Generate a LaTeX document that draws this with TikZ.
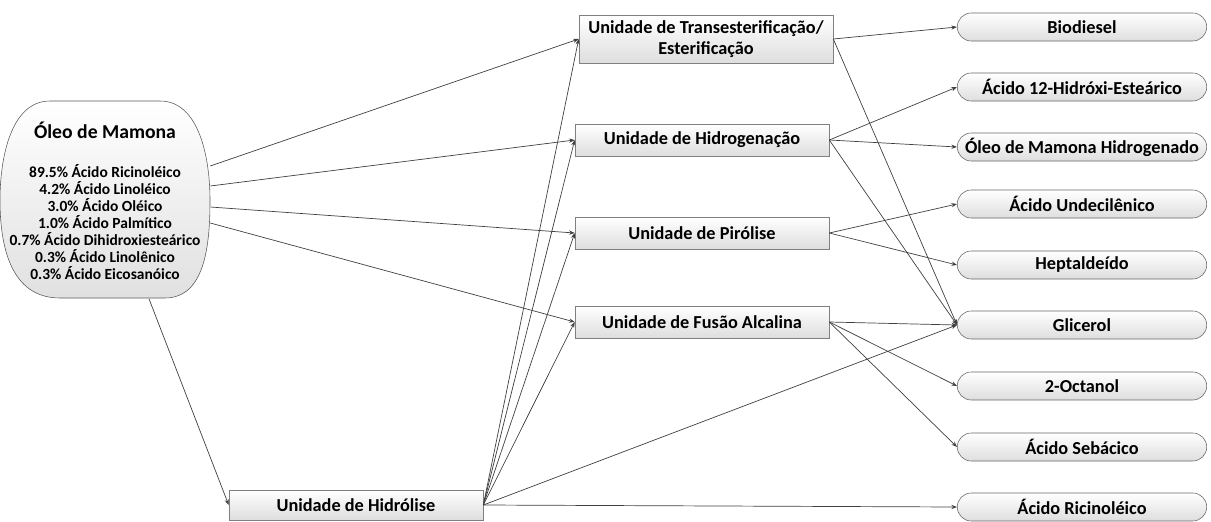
\documentclass[tikz,border=0pt]{standalone}
\usepackage{fontspec}
\setmainfont{Carlito}
\usetikzlibrary{shapes.misc,arrows.meta}

\begin{document}
\begin{tikzpicture}[
    x=0.025cm, y=-0.025cm,
    unit/.style={rectangle,draw=black!50,top color=white,bottom color=black!13,
      minimum width=6.35cm,minimum height=0.8cm,inner sep=2pt,align=center,
      font=\fontsize{13}{14.5}\selectfont\bfseries},
    product/.style={rounded rectangle,draw=black!60,top color=white,bottom color=black!13,
      minimum width=6.375cm,minimum height=0.7cm,inner sep=2pt,
      font=\fontsize{13}{15}\selectfont\bfseries},
    link/.style={-{Stealth[length=4pt,width=3pt]},black!75,line width=0.5pt}
    ]

    \useasboundingbox (0,0) rectangle (1211,521);

    % oleo de mamona
    \shade[top color=white,bottom color=black!12,draw=black!65]
      (50,101) -- (160,101) .. controls (200,101) and (210,160) .. (210,200)
      .. controls (210,245) and (205,298) .. (165,298) -- (60,298)
      .. controls (10,298) and (0,245) .. (0,200)
      .. controls (0,160) and (10,101) .. (50,101) -- cycle;
    \node (oleo) [rectangle,minimum width=5.25cm,minimum height=4.925cm] at (105,200) {};
    \node (oleotit) [font=\fontsize{14}{17}\selectfont\bfseries] at (105,130) {Óleo de Mamona};
    \node (oleolist) [align=center,font=\fontsize{11}{12}\selectfont\bfseries] at (105,222)
      {89.5\% Ácido Ricinoléico\\4.2\% Ácido Linoléico\\3.0\% Ácido Oléico\\
       1.0\% Ácido Palmítico\\0.7\% Ácido Dihidroxiesteárico\\0.3\% Ácido Linolênico\\
       0.3\% Ácido Eicosanóico};

    % unidades
    \node (trans) [unit,minimum height=1.2cm] at (706,39) {Unidade de Transesterificação/\\Esterificação};
    \node (hidrog) [unit] at (702,140) {Unidade de Hidrogenação};
    \node (pirol) [unit] at (702,233) {Unidade de Pirólise};
    \node (fusao) [unit] at (702,322) {Unidade de Fusão Alcalina};
    \node (hidrol) [unit,minimum height=0.75cm] at (356,505) {Unidade de Hidrólise};

    % produtos
    \foreach \name/\y/\txt in {biodiesel/27/Biodiesel, hidroxi/87/Ácido 12-Hidróxi-Esteárico,
        oleoh/147/Óleo de Mamona Hidrogenado, undec/204/Ácido Undecilênico,
        hepta/265/Heptaldeído, glicerol/325/Glicerol, octanol/386/2-Octanol,
        sebacico/447/Ácido Sebácico, ricin/507/Ácido Ricinoléico}
      \node (\name) [product] at (1082,\y) {\txt};

    % ligacoes
    \draw[link] ([yshift=0.85cm]oleo.east) -- (trans.west);
    \draw[link] ([yshift=0.35cm]oleo.east) -- (hidrog.west);
    \draw[link] ([yshift=-0.175cm]oleo.east) -- (pirol.west);
    \draw[link] ([yshift=-0.575cm]oleo.east) -- (fusao.west);
    \draw[link] (oleo.-66) -- (hidrol.west);

    \foreach \a/\b in {trans/biodiesel, trans/glicerol, hidrog/hidroxi, hidrog/oleoh,
        hidrog/glicerol, pirol/undec, pirol/hepta, fusao/glicerol, fusao/octanol,
        fusao/sebacico, hidrol/glicerol, hidrol/ricin, hidrol/trans, hidrol/hidrog,
        hidrol/pirol, hidrol/fusao}
      \draw[link] (\a.east) -- (\b.west);

\end{tikzpicture}
\end{document}
